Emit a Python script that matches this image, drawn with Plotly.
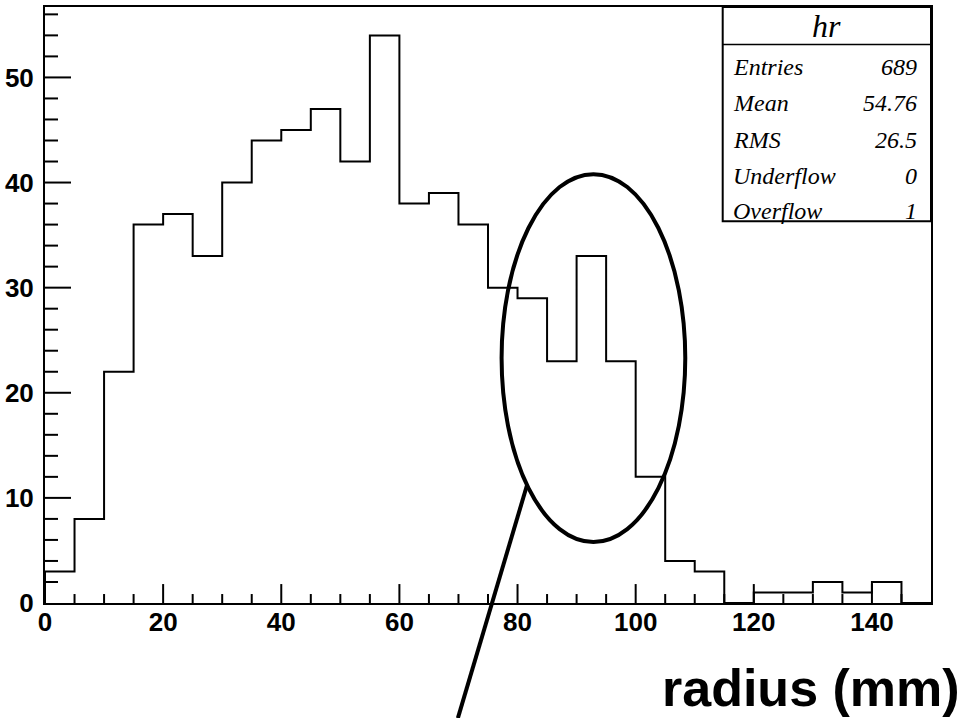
import plotly.graph_objects as go

# ---- data ----
bin_edges = [0, 5, 10, 15, 20, 25, 30, 35, 40, 45, 50, 55, 60, 65, 70, 75,
             80, 85, 90, 95, 100, 105, 110, 115, 120, 125, 130, 135, 140, 145, 150]
counts = [3, 8, 22, 36, 37, 33, 40, 44, 45, 47, 42, 54, 38, 39, 36, 30,
          29, 23, 33, 23, 12, 4, 3, 0, 1, 1, 2, 1, 2, 0]
stat_labels = ["Entries", "Mean", "RMS", "Underflow", "Overflow"]
stat_values = ["689", "54.76", "26.5", "0", "1"]
hist_name = "hr"
x_title = "radius (mm)"
x_major, x_minor = 20, 5
y_major, y_minor = 10, 2

# annotation ellipse (data coords) and pointer line
ell_cx, ell_cy, ell_rx, ell_ry = 92.85, 23.3, 15.55, 17.5
ptr_x = [81.6, 69.9]
ptr_y = [11.2, -10.95]

x_max = bin_edges[-1]
y_max = max(counts) * 1.05

W, H = 965, 718
ML, MR, MT, MB = 45, 34, 5, 115
PW, PH = W - ML - MR, H - MT - MB

# ---- step outline ----
xs = [bin_edges[0]] + bin_edges
ys = [0] + counts + [counts[-1]]

fig = go.Figure()

# ---- tick marks (ROOT style, inside): one short segment trace per tick ----
tick_segments = []
for i in range(1, int(x_max // x_minor)):
    v = i * x_minor
    L = (19 if v % x_major == 0 else 9) / PH * y_max
    tick_segments.append(([v, v], [0, L]))
for i in range(1, int(y_max // y_minor) + 1):
    v = i * y_minor
    L = (26 if v % y_major == 0 else 13) / PW * x_max
    tick_segments.append(([0, L], [v, v]))
for sx, sy in tick_segments:
    fig.add_trace(go.Scatter(x=sx, y=sy, mode="lines", line=dict(color="black", width=2),
                             hoverinfo="skip", showlegend=False))

fig.add_trace(go.Scatter(x=xs, y=ys, mode="lines", line=dict(shape="hv", color="black", width=2),
                         hoverinfo="skip", showlegend=False))

tickfont = dict(family="Liberation Sans, Arial, sans-serif", size=26, color="black", weight="bold")

fig.update_layout(
    width=W, height=H,
    margin=dict(l=ML, r=MR, t=MT, b=MB),
    paper_bgcolor="white", plot_bgcolor="white",
    showlegend=False,
    xaxis=dict(range=[0, x_max], tickmode="linear", tick0=0, dtick=x_major,
               showgrid=False, zeroline=False,
               showline=True, linecolor="black", linewidth=2, mirror=True,
               ticks="", ticklabelstandoff=-5, tickfont=tickfont),
    yaxis=dict(range=[0, y_max], tickmode="linear", tick0=0, dtick=y_major,
               showgrid=False, zeroline=False,
               showline=True, linecolor="black", linewidth=2, mirror=True,
               ticks="", ticklabelstandoff=4, tickfont=tickfont),
)

# ellipse
fig.add_shape(type="circle", xref="x", yref="y",
              x0=ell_cx - ell_rx, x1=ell_cx + ell_rx, y0=ell_cy - ell_ry, y1=ell_cy + ell_ry,
              line=dict(color="black", width=4))
# pointer line (paper coords so it may leave the plot area)
fig.add_shape(type="line", xref="paper", yref="paper",
              x0=ptr_x[0] / x_max, y0=ptr_y[0] / y_max, x1=ptr_x[1] / x_max, y1=ptr_y[1] / y_max,
              line=dict(color="black", width=4))

# stats box
def py(p):
    return (MT + PH - p) / PH
def px(p):
    return (p - ML) / PW

fig.add_shape(type="rect", xref="paper", yref="paper", x0=px(722.7), x1=1.0, y0=py(220), y1=1.0,
              line=dict(color="black", width=2), fillcolor="white")
fig.add_shape(type="line", xref="paper", yref="paper", x0=px(722.7), x1=1.0, y0=py(42.7), y1=py(42.7),
              line=dict(color="black", width=1.5))

serif = "Liberation Serif, Times New Roman, serif"
fig.add_annotation(xref="paper", yref="paper", x=px(826.3), y=py(24), text=f"<i>{hist_name}</i>",
                   showarrow=False, xanchor="center", yanchor="middle",
                   font=dict(family=serif, size=32, color="black"))
row_y = [65, 101.7, 138.5, 175, 210]
for lab, val, ry in zip(stat_labels, stat_values, row_y):
    fig.add_annotation(xref="paper", yref="paper", x=px(731), y=py(ry), text=f"<i>{lab}</i>",
                       showarrow=False, xanchor="left", yanchor="middle",
                       font=dict(family=serif, size=24, color="black"))
    fig.add_annotation(xref="paper", yref="paper", x=px(919), y=py(ry), text=f"<i>{val}</i>",
                       showarrow=False, xanchor="right", yanchor="middle",
                       font=dict(family=serif, size=24, color="black"))

# axis title (ROOT style: right aligned below axis)
fig.add_annotation(xref="paper", yref="paper", x=px(962), y=py(688), text=x_title,
                   showarrow=False, xanchor="right", yanchor="middle",
                   font=dict(family="Liberation Sans, Arial, sans-serif", size=52, color="black", weight="bold"))

fig.write_html("out.html")
